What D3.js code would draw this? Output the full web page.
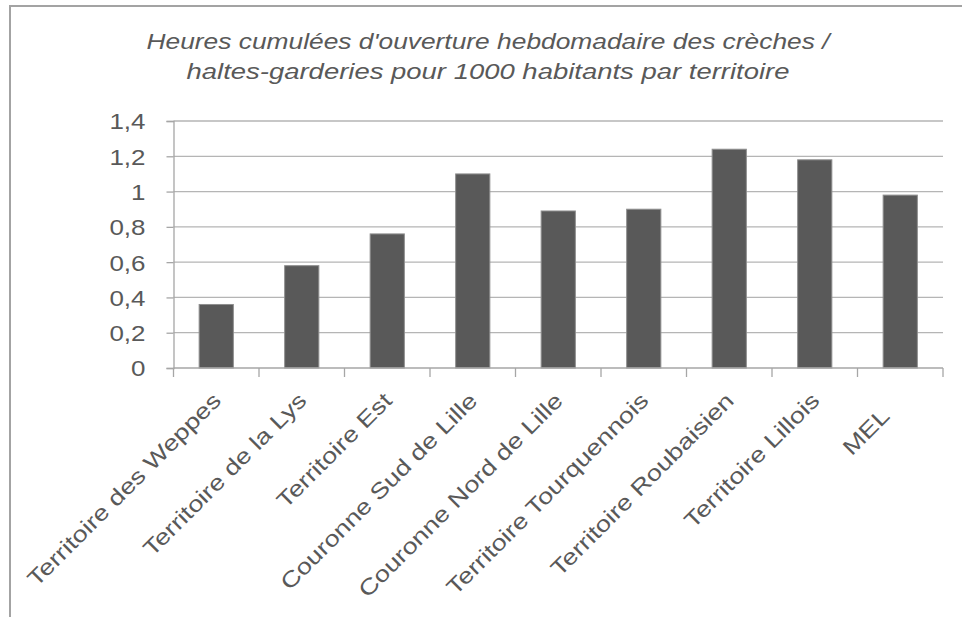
<!DOCTYPE html>
<html>
<head>
<meta charset="utf-8">
<script src="https://cdn.jsdelivr.net/npm/d3@7"></script>
<style>
  body { margin: 0; background: #fff; }
  text { font-family: "Liberation Sans", Arial, sans-serif; fill: #595959; }
</style>
</head>
<body>
<div class="chart"></div>
<script>
// data
var territoires = ["Territoire des Weppes", "Territoire de la Lys", "Territoire Est",
  "Couronne Sud de Lille", "Couronne Nord de Lille", "Territoire Tourquennois",
  "Territoire Roubaisien", "Territoire Lillois", "MEL   "];
var heures = [0.36, 0.58, 0.76, 1.10, 0.89, 0.90, 1.24, 1.18, 0.98];
var yTicks = [0, 0.2, 0.4, 0.6, 0.8, 1, 1.2, 1.4];
var titre = ["Heures cumulées d'ouverture hebdomadaire des crèches /",
  "haltes-garderies pour 1000 habitants par territoire"];

var width = 962, height = 617;
var plot = {left: 173.5, right: 943, top: 121, bottom: 368};

// text in the original is drawn wider than Arial, widen it a bit
function stretch(sel, k) {
  sel.each(function() {
    var len = this.getComputedTextLength();
    d3.select(this).attr("textLength", len * k).attr("lengthAdjust", "spacingAndGlyphs");
  });
}

var svg = d3.select(".chart").append("svg")
  .attr("width", width)
  .attr("height", height);

svg.append("rect").attr("width", width).attr("height", height).attr("fill", "#fff");

// chart border (runs off the right and bottom)
svg.append("rect")
  .attr("x", 10).attr("y", 6)
  .attr("width", 1000).attr("height", 700)
  .attr("fill", "none")
  .attr("stroke", "#a3a3a3")
  .attr("stroke-width", 2);

// title
var titleWidths = [683, 603];
svg.append("g").selectAll("text")
  .data(titre)
  .enter().append("text")
  .attr("x", 488)
  .attr("y", function(d, i) { return 49 + i * 30; })
  .attr("text-anchor", "middle")
  .attr("textLength", function(d, i) { return titleWidths[i]; })
  .attr("lengthAdjust", "spacingAndGlyphs")
  .style("font-size", "22px")
  .style("font-style", "italic")
  .text(function(d) { return d; });

var x = d3.scaleBand()
  .domain(territoires)
  .range([plot.left, plot.right])
  .paddingInner(0.6)
  .paddingOuter(0.3);

var y = d3.scaleLinear()
  .domain([0, 1.4])
  .range([plot.bottom, plot.top]);

// gridlines
svg.append("g").selectAll("line")
  .data(yTicks.slice(1))
  .enter().append("line")
  .attr("x1", plot.left).attr("x2", plot.right)
  .attr("y1", function(d) { return y(d); })
  .attr("y2", function(d) { return y(d); })
  .attr("stroke", "#b5b5b5")
  .attr("stroke-width", 1.3);

// y axis
var yAxis = svg.append("g")
  .attr("transform", "translate(" + plot.left + ",0)")
  .call(d3.axisLeft(y).tickValues(yTicks).tickSize(7).tickPadding(21)
    .tickFormat(function(d) { return d3.format("~g")(d).replace(".", ","); }));
yAxis.select(".domain").attr("stroke", "#a6a6a6").attr("stroke-width", 1.3);
yAxis.selectAll(".tick line").attr("stroke", "#a6a6a6").attr("stroke-width", 1.3);
yAxis.selectAll(".tick text")
  .attr("fill", null)
  .style("font-size", "22px")
  .attr("dy", "0.36em")
  .call(stretch, 1.18);

// bars
svg.append("g").selectAll("rect")
  .data(heures)
  .enter().append("rect")
  .attr("x", function(d, i) { return x(territoires[i]); })
  .attr("y", function(d) { return y(d); })
  .attr("width", x.bandwidth())
  .attr("height", function(d) { return y(0) - y(d); })
  .attr("fill", "#595959")
  .attr("stroke", "#8f8f8f")
  .attr("stroke-width", 1);

// x axis line and ticks at category boundaries
var step = x.step();
var bounds = d3.range(territoires.length + 1).map(function(i) { return plot.left + i * step; });
svg.append("line")
  .attr("x1", plot.left).attr("x2", plot.right)
  .attr("y1", plot.bottom).attr("y2", plot.bottom)
  .attr("stroke", "#a6a6a6").attr("stroke-width", 1.3);
svg.append("g").selectAll("line")
  .data(bounds)
  .enter().append("line")
  .attr("x1", function(d) { return d; }).attr("x2", function(d) { return d; })
  .attr("y1", plot.bottom).attr("y2", plot.bottom + 9)
  .attr("stroke", "#a6a6a6").attr("stroke-width", 1.3);

// rotated category labels
svg.append("g").selectAll("text")
  .data(territoires)
  .enter().append("text")
  .attr("transform", function(d) {
    var cx = x(d) + x.bandwidth() / 2 + 6;
    return "translate(" + cx + "," + (plot.bottom + 34) + ") rotate(-45)";
  })
  .attr("text-anchor", "end")
  .style("font-size", "22px")
  .style("white-space", "pre")
  .text(function(d) { return d; })
  .call(stretch, 1.23);
</script>
</body>
</html>
